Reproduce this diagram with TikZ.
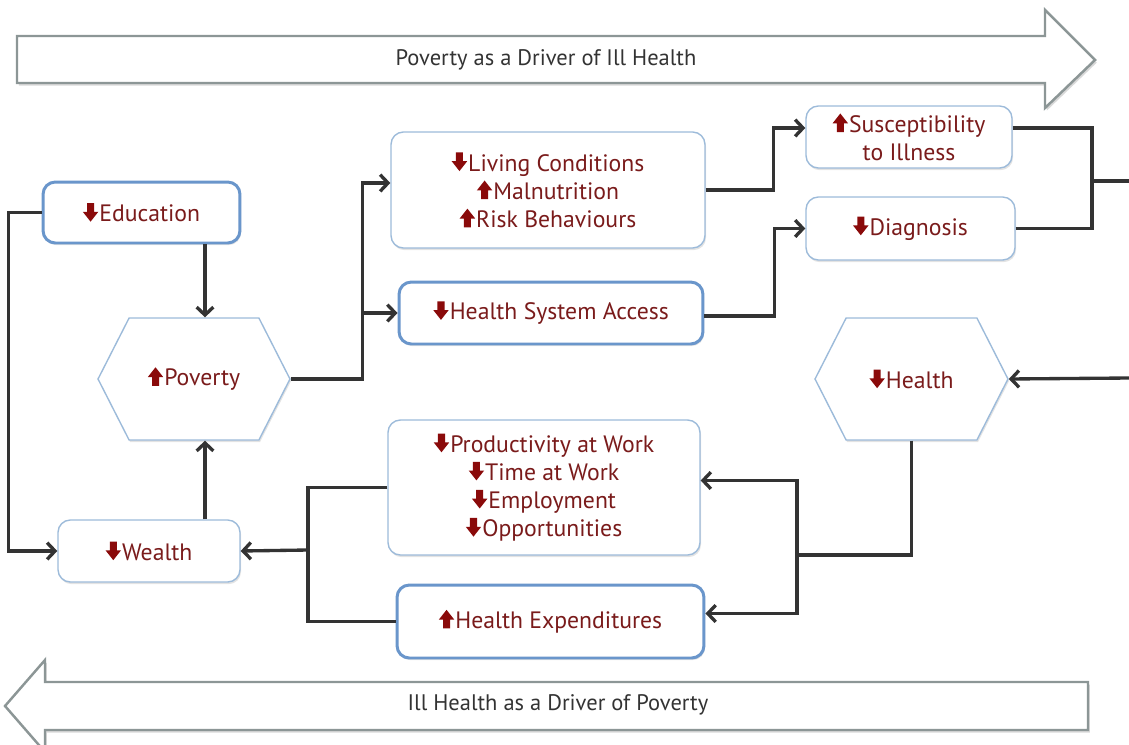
\documentclass[tikz,border=0pt]{standalone}
\usepackage{fontspec}
\setmainfont{PT Sans}
\usetikzlibrary{arrows.meta,shapes.symbols,shadows}

\definecolor{arrred}{HTML}{8A0A0A}
\definecolor{txtred}{HTML}{7A1B1B}
\definecolor{thinblue}{HTML}{9DBBDA}
\definecolor{thickblue}{HTML}{6A96CB}
\definecolor{linegray}{HTML}{333333}
\definecolor{bandgray}{HTML}{8C9696}

% red up/down marks, built once
\newsavebox{\dnbox}
\newsavebox{\upbox}
\sbox{\dnbox}{\tikz[baseline=0pt,x=1pt,y=1pt]\fill[arrred] (-2,10.6) -- (2,10.6) -- (2,5.6) -- (4.4,5.6) -- (0,0) -- (-4.4,5.6) -- (-2,5.6) -- cycle;}
\sbox{\upbox}{\tikz[baseline=0pt,x=1pt,y=1pt]\fill[arrred] (-2,0) -- (2,0) -- (2,5) -- (4.4,5) -- (0,10.6) -- (-4.4,5) -- (-2,5) -- cycle;}
\newcommand{\dnarr}{\usebox{\dnbox}\hspace{0.6pt}}
\newcommand{\uparr}{\usebox{\upbox}\hspace{0.6pt}}

\tikzset{
  box/.style={rectangle, rounded corners=7pt, draw=thinblue, line width=0.8pt, fill=white,
    align=center, text=txtred, font=\fontsize{13.5}{16}\selectfont, inner sep=2pt,
    drop shadow={shadow xshift=0.6pt, shadow yshift=-1.2pt, opacity=0.22}},
  thickbox/.style={box, draw=thickblue, line width=1.7pt},
  hexbox/.style={box, shape=signal, signal to=west and east, signal pointer angle=126, rounded corners=0pt},
  band/.style={draw=bandgray, line width=1.4pt, fill=white,
    drop shadow={shadow xshift=1pt, shadow yshift=-1.5pt, opacity=0.3}},
  bandtext/.style={font=\fontsize{12.8}{14}\selectfont, text=linegray},
  line/.style={draw=linegray, line width=1.9pt},
  conn/.style={line, -{Straight Barb[length=4.5pt,width=9.5pt]}}
}

\begin{document}
\begin{tikzpicture}[x=0.02cm,y=-0.02cm]
  \useasboundingbox (0,0) rectangle (1129,744);

  % big band arrows
  \draw[band] (17,36) -- (1045,36) -- (1045,10) -- (1095,60) -- (1045,108) -- (1045,83) -- (17,83) -- cycle;
  \node[bandtext] (topband) at (546,60) {Poverty as a Driver of Ill Health};
  \draw[band] (1088,682) -- (45,682) -- (45,660) -- (5,706) -- (45,752) -- (45,730) -- (1088,730) -- cycle;
  \node[bandtext] (botband) at (558,705) {Ill Health as a Driver of Poverty};

  % left cycle
  \node[thickbox, minimum width=3.94cm, minimum height=1.22cm] (edu) at (141.5,212.5) {\dnarr Education};
  \node[hexbox, minimum width=3.84cm, minimum height=2.44cm] (pov) at (194,379) {\uparr Poverty};
  \node[box, minimum width=3.64cm, minimum height=1.24cm] (wealth) at (149,551) {\dnarr Wealth};

  % upper branch
  \node[box, minimum width=6.28cm, minimum height=2.32cm] (living) at (548,190)
    {\dnarr Living Conditions\\ \uparr Malnutrition\\ \uparr Risk Behaviours};
  \node[thickbox, minimum width=6.08cm, minimum height=1.24cm] (hsa) at (551,313) {\dnarr Health System Access};
  \node[box, minimum width=4.12cm, minimum height=1.24cm] (susc) at (909,137) {\uparr Susceptibility\\ to Illness};
  \node[box, minimum width=4.18cm, minimum height=1.26cm] (diag) at (910.5,228.5) {\dnarr Diagnosis};
  \node[hexbox, minimum width=3.86cm, minimum height=2.44cm] (health) at (911.5,379) {\dnarr Health};

  % lower branch
  \node[box, minimum width=6.24cm, minimum height=2.70cm] (prod) at (544,487.5)
    {\dnarr Productivity at Work\\ \dnarr Time at Work\\ \dnarr Employment\\ \dnarr Opportunities};
  \node[thickbox, minimum width=6.14cm, minimum height=1.46cm] (hexp) at (550.5,621.5) {\uparr Health Expenditures};

  % junctions
  \coordinate (povin) at ([xshift=0.22cm]pov.north);
  \coordinate (povout) at ([xshift=0.22cm]pov.south);
  \coordinate (rjoin) at (1092,181);
  \coordinate (offR) at (1129,181);
  \coordinate (offH) at (1129,378);
  \coordinate (hjoin) at (797,555);
  \coordinate (wjoin) at (308,550);

  \draw[conn] (edu.west) -- ++(-33,0) |- (wealth.west);
  \draw[conn] (edu.south -| povin) -- (povin);
  \draw[conn] (wealth.north -| povout) -- (povout);
  \draw[conn] (pov.east) -- ++(72,0) |- ([yshift=0.14cm]living.west);
  \draw[conn] (pov.east) -- ++(72,0) |- (hsa.west);
  \draw[conn] (living.east) -- ++(68,0) |- ([yshift=0.18cm]susc.west);
  \draw[conn] ([yshift=-0.06cm]hsa.east) -- ++(70,0) |- (diag.west);
  \draw[line] ([yshift=0.18cm]susc.east) -| (rjoin);
  \draw[line] (diag.east) -| (rjoin);
  \draw[line] (rjoin) -- (offR);
  \draw[conn] (offH) -- (health.east);
  \draw[line] (health.south) |- (hjoin);
  \draw[conn] (hjoin) |- ([yshift=0.14cm]prod.east);
  \draw[conn] (hjoin) |- ([yshift=0.16cm]hexp.east);
  \draw[line] (prod.west) -| (wjoin);
  \draw[line] (hexp.west) -| (wjoin);
  \draw[conn] (wjoin) -- (wealth.east);
\end{tikzpicture}
\end{document}
